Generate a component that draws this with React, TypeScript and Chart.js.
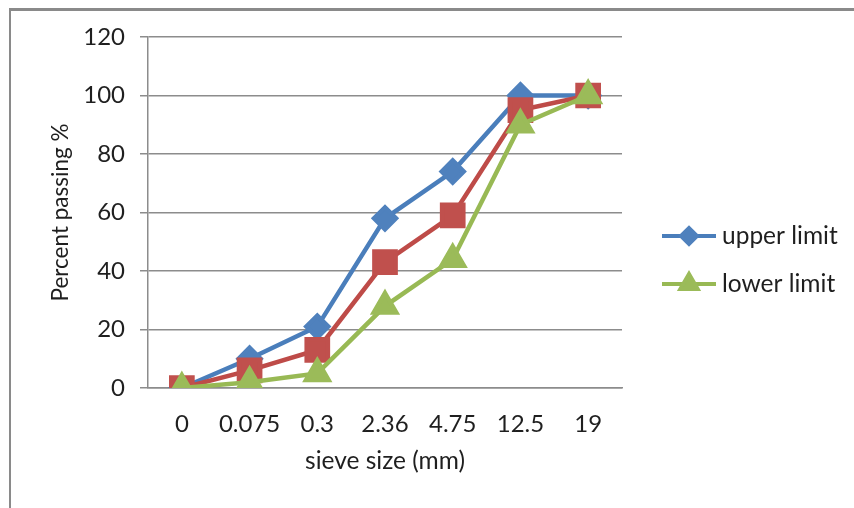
import React, { useEffect, useRef } from "react";
import { Chart, registerables } from "chart.js";
import { drawPoint } from "chart.js/helpers";

Chart.register(...registerables);

const categories = ["0", "0.075", "0.3", "2.36", "4.75", "12.5", "19"];
const upperLimit = [0, 10, 21, 58, 74, 100, 100];
const middleCurve = [0, 6, 13, 43, 59, 95, 100];
const lowerLimit = [0, 2, 5, 28, 44, 90, 100];
const yTicks = [0, 20, 40, 60, 80, 100, 120];

const FONT = "Lato, 'Open Sans', sans-serif";
const TEXT = "#1f1f1f";
const GRID = "#8c8c8c";

const legendPlugin = {
  id: "sideLegend",
  afterDraw(chart: any) {
    const ctx = chart.ctx as CanvasRenderingContext2D;
    const x0 = chart.chartArea.right + 40;
    const items = chart.data.datasets.filter((d: any) => d.label);
    items.forEach((ds: any, k: number) => {
      const y = 236 + k * 48;
      ctx.save();
      ctx.strokeStyle = ds.borderColor;
      ctx.lineWidth = 4;
      ctx.beginPath();
      ctx.moveTo(x0, y);
      ctx.lineTo(x0 + 54, y);
      ctx.stroke();
      ctx.fillStyle = ds.pointBackgroundColor;
      ctx.strokeStyle = ds.pointBorderColor;
      drawPoint(ctx, { pointStyle: ds.pointStyle, radius: ds.legendRadius, rotation: 0, borderWidth: 1 } as any, x0 + 27, y);
      ctx.fillStyle = TEXT;
      ctx.font = `24.5px ${FONT}`;
      ctx.textBaseline = "middle";
      ctx.textAlign = "left";
      ctx.fillText(ds.label, x0 + 60, y);
      ctx.restore();
    });
  },
};

export default function App() {
  const ref = useRef<HTMLCanvasElement | null>(null);

  useEffect(() => {
    if (!ref.current) return;
    const chart = new Chart(ref.current, {
      type: "line",
      data: {
        labels: categories,
        datasets: [
          {
            label: "upper limit",
            data: upperLimit,
            order: 2,
            borderColor: "#4A7EBB",
            borderWidth: 4.5,
            pointStyle: "rectRot",
            pointRadius: 11,
            pointBackgroundColor: "#4F81BD",
            pointBorderColor: "#4F81BD",
            legendRadius: 8,
          } as any,
          {
            label: "",
            data: middleCurve,
            order: 1,
            borderColor: "#BE4B48",
            borderWidth: 4.5,
            pointStyle: "rect",
            pointRadius: 15,
            pointBackgroundColor: "#C0504D",
            pointBorderColor: "#C0504D",
          } as any,
          {
            label: "lower limit",
            data: lowerLimit,
            order: 0,
            borderColor: "#98B954",
            borderWidth: 4.5,
            pointStyle: "triangle",
            pointRadius: 13,
            pointBackgroundColor: "#9BBB59",
            pointBorderColor: "#9BBB59",
            legendRadius: 10,
          } as any,
        ],
      },
      options: {
        animation: false,
        responsive: false,
        devicePixelRatio: 1,
        layout: { padding: { left: 40, top: 37, right: 232, bottom: 20 } },
        plugins: { legend: { display: false }, tooltip: { enabled: false } },
        elements: { line: { tension: 0 } },
        scales: {
          x: {
            type: "category",
            offset: true,
            grid: { display: false, drawTicks: false },
            border: { display: true, color: GRID, width: 1.5 },
            ticks: { color: TEXT, font: { family: FONT, size: 24 }, padding: 22, maxRotation: 0 },
            title: {
              display: true,
              text: "sieve size (mm)",
              color: TEXT,
              font: { family: FONT, size: 24.5 },
              padding: { top: 0, bottom: 12 },
            },
            afterFit: (s: any) => {
              s.height = 100;
            },
          },
          y: {
            min: 0,
            max: 120,
            afterBuildTicks: (s: any) => {
              s.ticks = yTicks.map((v) => ({ value: v }));
            },
            grid: { color: GRID, lineWidth: 1.5, tickLength: 8, drawTicks: true },
            border: { display: true, color: GRID, width: 1.5 },
            ticks: { color: TEXT, font: { family: FONT, size: 24 }, padding: 15 },
            title: {
              display: true,
              text: "Percent passing %",
              color: TEXT,
              font: { family: FONT, size: 22.5 },
              padding: { top: 7, bottom: 0 },
            },
            afterFit: (s: any) => {
              s.width = 108;
            },
          },
        },
      },
      plugins: [legendPlugin],
    });
    return () => chart.destroy();
  }, []);

  return (
    <div style={{ position: "fixed", left: 0, top: 0, width: 854, height: 508, background: "#fff" }}>
      <canvas ref={ref} width={854} height={508} style={{ position: "absolute", left: 0, top: 0 }} />
      <div
        style={{
          position: "absolute",
          left: 9,
          top: 8,
          right: 0,
          bottom: 0,
          borderTop: "3px solid #8a8a8a",
          borderLeft: "2px solid #8a8a8a",
          pointerEvents: "none",
        }}
      />
    </div>
  );
}
